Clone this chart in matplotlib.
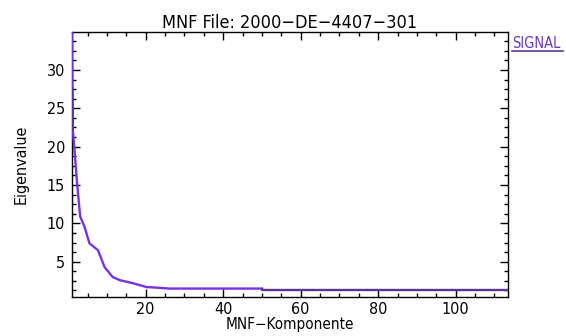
import matplotlib
matplotlib.use('Agg')
import matplotlib.pyplot as plt
from matplotlib.ticker import MultipleLocator

# Werte (Spur der Kurve)
komponente = [1.05, 1.1, 1.2, 1.65, 2.25, 3.1, 4.2, 5.5, 7.7, 9.4, 10.7, 11.5,
              13.3, 16.7, 20.2, 23.5, 26.0, 50.0, 50.0, 113.5]
eigenwert = [34.9, 27.6, 22.2, 19.6, 15.6, 10.9, 9.6, 7.4, 6.5, 4.3, 3.5, 3.0,
             2.6, 2.2, 1.7, 1.6, 1.5, 1.5, 1.35, 1.35]

titel = 'MNF File: 2000\u2212DE\u22124407\u2212301'
xlabel = 'MNF\u2212Komponente'
ylabel = 'Eigenvalue'
legende = 'SIGNAL'

hell = '#7832e6'
dunkel = '#5c3594'

fig = plt.figure(figsize=(5.66, 3.36), dpi=100)
ax = fig.add_axes([72/566, 1 - 297.3/336, (508 - 72)/566, (297.3 - 32)/336])

# Kurve: heller Teil und dunkler Teil ab Komponente 50
ax.plot(komponente[:18], eigenwert[:18], color=hell, lw=1.7,
        solid_joinstyle='miter', zorder=3)
ax.plot(komponente[1:3], eigenwert[1:3], color=dunkel, lw=1.7, zorder=3)
ax.plot(komponente[17:], eigenwert[17:], color=dunkel, lw=1.7, zorder=3)

ax.set_xlim(1, 113.5)
ax.set_ylim(0.36, 34.95)

ax.xaxis.set_major_locator(MultipleLocator(20))
ax.xaxis.set_minor_locator(MultipleLocator(5))
ax.yaxis.set_major_locator(MultipleLocator(5))
ax.yaxis.set_minor_locator(MultipleLocator(1.25))

fs = 11.5
ax.tick_params(which='both', direction='in', top=True, right=True,
               color='black', width=1.0)
ax.tick_params(which='major', length=5.5, labelsize=fs)
ax.tick_params(axis='x', which='major', pad=3.5)
ax.tick_params(axis='y', which='major', pad=5)
ax.tick_params(which='minor', length=2.8)
for s in ax.spines.values():
    s.set_linewidth(1.0)

for lab in ax.get_xticklabels() + ax.get_yticklabels():
    lab.set_fontstretch('condensed')

ax.set_title(titel, fontsize=13, pad=3, fontstretch='condensed')
ax.set_xlabel(xlabel, fontsize=11, labelpad=0, fontstretch='condensed')
ax.set_ylabel(ylabel, fontsize=fs, labelpad=13, fontstretch='condensed')

# Legende rechts oben: Text mit Linie darunter
fig.text(512/566, 1 - 47.5/336, legende, color='#6a3ac0', fontsize=10.5,
         ha='left', va='baseline', fontstretch='condensed')
fig.add_artist(plt.Line2D([512/566, 563/566], [1 - 50.7/336, 1 - 50.7/336],
                          color=dunkel, lw=1.2))

fig.savefig('out.png', dpi=100)
